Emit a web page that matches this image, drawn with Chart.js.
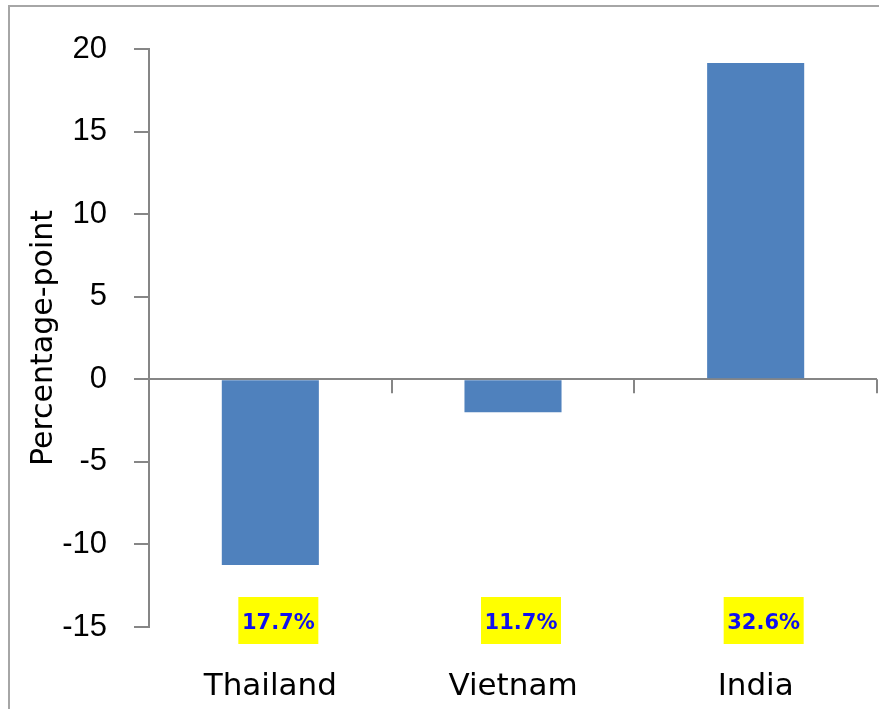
<!DOCTYPE html>
<html>
<head>
<meta charset="utf-8">
<script src="https://cdn.jsdelivr.net/npm/chart.js@4.4.0/dist/chart.umd.min.js"></script>
<style>
  html, body { margin: 0; padding: 0; background: #fff; }
  #wrap { width: 879px; height: 709px; position: relative; }
</style>
</head>
<body>
<div id="wrap"><canvas id="myChart" width="879" height="709"></canvas></div>
<script>
// datos del grafico
const countries = ['Thailand', 'Vietnam', 'India'];
const changes = [-11.25, -2.0, 19.15];
const shares = ['17.7%', '11.7%', '32.6%'];

const ctx = document.getElementById('myChart').getContext('2d');
const axisGray = '#868686';

// marco, marcas del eje x en el cero y etiquetas amarillas
const extras = {
  id: 'extras',
  beforeDraw(chart) {
    const c = chart.ctx;
    c.save();
    c.strokeStyle = '#a6a6a6';
    c.lineWidth = 2;
    c.beginPath();
    c.moveTo(9, chart.height);
    c.lineTo(9, 6);
    c.lineTo(chart.width, 6);
    c.stroke();
    c.restore();
  },
  afterDraw(chart) {
    const c = chart.ctx;
    const x = chart.scales.x;
    const y = chart.scales.y;
    const y0 = y.getPixelForValue(0);
    const step = x.getPixelForValue(1) - x.getPixelForValue(0);
    c.save();
    c.strokeStyle = axisGray;
    c.lineWidth = 2;
    for (let i = 0; i < countries.length; i++) {
      const bx = Math.round(x.getPixelForValue(i) + step / 2);
      c.beginPath();
      c.moveTo(bx, y0);
      c.lineTo(bx, y0 + 14);
      c.stroke();
    }
    const yb = y.getPixelForValue(-15) - 7;
    c.font = 'bold 21px "DejaVu Sans"';
    c.textAlign = 'center';
    c.textBaseline = 'middle';
    shares.forEach((s, i) => {
      const cx = x.getPixelForValue(i) + 8;
      c.fillStyle = '#ffff00';
      c.fillRect(cx - 40, yb - 23, 80, 47);
      c.fillStyle = '#1010ee';
      c.fillText(s, cx, yb + 4);
    });
    c.restore();
  }
};

const chart = new Chart(ctx, {
  type: 'bar',
  data: {
    labels: countries,
    datasets: [{
      data: changes,
      backgroundColor: '#4f81bd',
      borderWidth: 0,
      barPercentage: 0.4,
      categoryPercentage: 1
    }]
  },
  options: {
    responsive: false,
    animation: false,
    layout: { padding: { left: 20, top: 49, right: 2, bottom: 7 } },
    plugins: { legend: { display: false }, tooltip: { enabled: false } },
    scales: {
      x: {
        afterFit: (s) => { s.height = 75; },
        grid: { display: false },
        border: { display: false },
        ticks: { color: '#000', padding: 33, maxRotation: 0, font: { family: 'DejaVu Sans', size: 31 } }
      },
      y: {
        afterFit: (s) => { s.width = 129; },
        min: -15,
        max: 20,
        ticks: { stepSize: 5, color: '#000', padding: 27, font: { family: 'Liberation Sans', size: 31 } },
        grid: {
          color: (c) => c.tick && c.tick.value === 0 ? axisGray : 'rgba(0,0,0,0)',
          tickColor: axisGray,
          tickLength: 15,
          lineWidth: 2
        },
        border: { color: axisGray, width: 2 },
        title: {
          display: true,
          text: 'Percentage-point',
          color: '#000',
          padding: { top: 6, bottom: 1 },
          font: { family: 'DejaVu Sans', size: 30 }
        }
      }
    }
  },
  plugins: [extras]
});
</script>
</body>
</html>
